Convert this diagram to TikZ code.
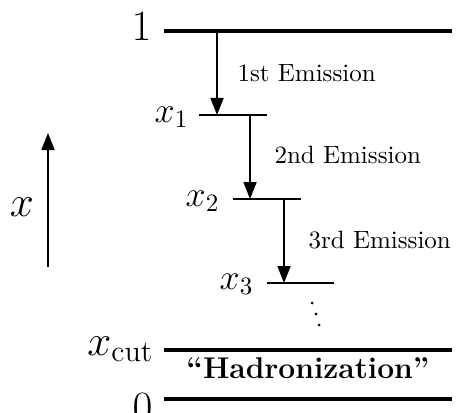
\RequirePackage{fix-cm}
\documentclass[tikz,border=0pt]{standalone}
\usetikzlibrary{arrows.meta}
\begin{document}
\begin{tikzpicture}[x=0.4pt,y=-0.4pt,
  level/.style={line width=1.36pt},
  sublevel/.style={line width=0.72pt},
  emit/.style={line width=0.72pt,-{Triangle[width=5.2pt,length=6.8pt]}},
  emitlabel/.style={inner sep=0pt,anchor=west,font=\fontsize{10}{12}\selectfont},
  biglabel/.style={inner sep=0pt,font=\fontsize{17.28}{21}\selectfont},
  xlabel/.style={inner sep=0pt,anchor=base east,font=\fontsize{14.4}{18}\selectfont},
  dot/.style={circle,fill,inner sep=0pt,minimum size=1.2pt}]
\useasboundingbox (0,0) rectangle (457,412);

% main levels
\coordinate (topL) at (164,31);
\coordinate (topR) at (452,31);
\coordinate (cutL) at (164,350);
\coordinate (cutR) at (452,350);
\coordinate (zeroL) at (164,399);
\coordinate (zeroR) at (452,399);
\draw[level] (topL) -- (topR);
\draw[level] (cutL) -- (cutR);
\draw[level] (zeroL) -- (zeroR);

% intermediate levels
\coordinate (l1L) at (199,115);  \coordinate (l1R) at (267,115);
\coordinate (l2L) at (233,199);  \coordinate (l2R) at (301,199);
\coordinate (l3L) at (267,283);  \coordinate (l3R) at (334,283);
\draw[sublevel] (l1L) -- (l1R);
\draw[sublevel] (l2L) -- (l2R);
\draw[sublevel] (l3L) -- (l3R);

% emissions
\coordinate (e1s) at (217,31);   \coordinate (e1e) at (217,115);
\coordinate (e2s) at (250,115);  \coordinate (e2e) at (250,199);
\coordinate (e3s) at (284,199);  \coordinate (e3e) at (284,283);
\draw[emit] (e1s) -- (e1e);
\draw[emit] (e2s) -- (e2e);
\draw[emit] (e3s) -- (e3e);
\node[emitlabel] (t1) at (237,73) {1st Emission};
\node[emitlabel] (t2) at (274,155) {2nd Emission};
\node[emitlabel] (t3) at (308,240) {3rd Emission};

% level labels
\node[biglabel,anchor=base east] (one) at (152,41) {$1$};
\node[xlabel] (x1) at (189,122) {$x_1$};
\node[xlabel] (x2) at (220,206) {$x_2$};
\node[xlabel] (x3) at (254,289) {$x_3$};
\node[biglabel,anchor=base east] (xc) at (154,355) {$x_{\mathrm{cut}}$};
\node[biglabel,anchor=base east] (zero) at (153,421) {$0$};

% dots below the last emission
\node[dot] (d1) at (312,303) {};
\node[dot] (d2) at (316,314) {};
\node[dot] (d3) at (319,325) {};

\node[inner sep=0pt,font=\fontsize{12}{14.4}\selectfont\bfseries] (had) at (308,368) {``Hadronization''};

% axis
\coordinate (axB) at (48,267);
\coordinate (axT) at (48,133);
\draw[emit] (axB) -- (axT);
\node[biglabel] (xa) at (22,207) {$x$};
\end{tikzpicture}
\end{document}
